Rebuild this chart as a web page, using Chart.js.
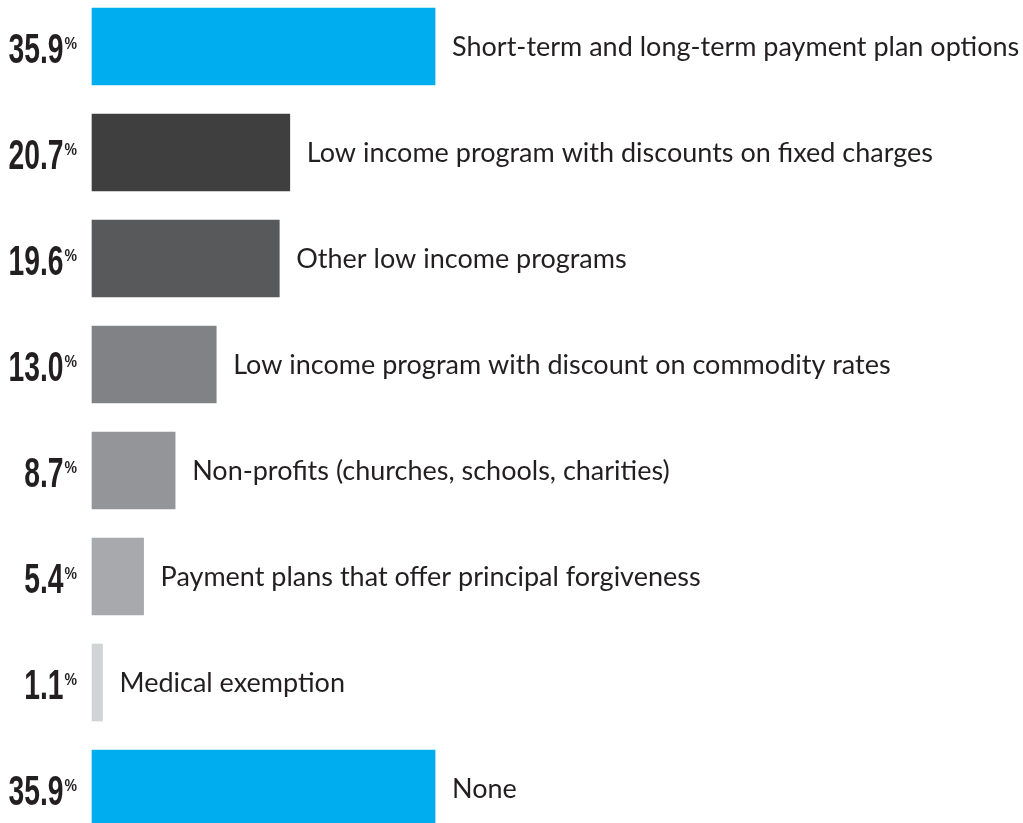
<!DOCTYPE html>
<html><head><meta charset="utf-8">
<script src="https://cdn.jsdelivr.net/npm/chart.js@4"></script>
<style>
html,body{margin:0;padding:0;background:#fff;overflow:hidden}
#wrap{position:relative;width:1023px;height:823px}
</style>
</head><body>
<div id="wrap"><canvas id="c" width="1023" height="823"></canvas></div>
<script>
const categories = [
  "Short-term and long-term payment plan options",
  "Low income program with discounts on fixed charges",
  "Other low income programs",
  "Low income program with discount on commodity rates",
  "Non-profits (churches, schools, charities)",
  "Payment plans that offer principal forgiveness",
  "Medical exemption",
  "None"
];
const values = [35.9, 20.7, 19.6, 13.0, 8.7, 5.4, 1.1, 35.9];
const valueLabels = ["35.9", "20.7", "19.6", "13.0", "8.7", "5.4", "1.1", "35.9"];
const barColors = ["#00AEEF", "#3F3F40", "#58595B", "#808285", "#939598", "#A7A9AC", "#D1D3D4", "#00AEEF"];

const TEXT = "#231F20";
const labelPlugin = {
  id: "barLabels",
  afterDatasetsDraw(chart) {
    const ctx = chart.ctx;
    const meta = chart.getDatasetMeta(0);
    ctx.save();
    ctx.font = 'bold 43px "Liberation Sans Narrow", "Liberation Sans", sans-serif';
    const refW = ctx.measureText("35.9").width;
    ctx.font = 'bold 20px "Liberation Sans Narrow", "Liberation Sans", sans-serif';
    const pctW = ctx.measureText("%").width;
    ctx.restore();
    const sx = 55 / refW;
    const px = 12.5 / pctW;
    meta.data.forEach((bar, i) => {
      const y = bar.y;
      ctx.save();
      ctx.fillStyle = TEXT;
      ctx.textBaseline = "alphabetic";
      ctx.font = 'bold 43px "Liberation Sans Narrow", "Liberation Sans", sans-serif';
      ctx.textAlign = "right";
      ctx.save();
      ctx.translate(63.5, y + 16.5);
      ctx.scale(sx, 1);
      ctx.fillText(valueLabels[i], 0, 0);
      ctx.restore();
      // superscript %
      ctx.save();
      ctx.font = 'bold 20px "Liberation Sans Narrow", "Liberation Sans", sans-serif';
      ctx.textAlign = "left";
      ctx.translate(64.5, y + 2.5);
      ctx.scale(px, 0.8);
      ctx.fillText("%", 0, 0);
      ctx.restore();
      // category label
      ctx.font = '27px Lato, sans-serif';
      ctx.textAlign = "left";
      ctx.fillText(categories[i], bar.x + 17, y + 9);
      ctx.restore();
    });
  }
};

new Chart(document.getElementById("c"), {
  type: "bar",
  data: {
    labels: categories,
    datasets: [{
      data: values,
      backgroundColor: barColors,
      borderWidth: 0,
      barThickness: 77,
      clip: false
    }]
  },
  options: {
    indexAxis: "y",
    responsive: false,
    animation: false,
    layout: { padding: { left: 92, right: 0, top: 46.5, bottom: 34.5 } },
    scales: {
      x: { display: false, min: 0, max: 97.43 },
      y: { display: false, offset: false }
    },
    plugins: { legend: { display: false }, tooltip: { enabled: false } }
  },
  plugins: [labelPlugin]
});
</script>
</body></html>
